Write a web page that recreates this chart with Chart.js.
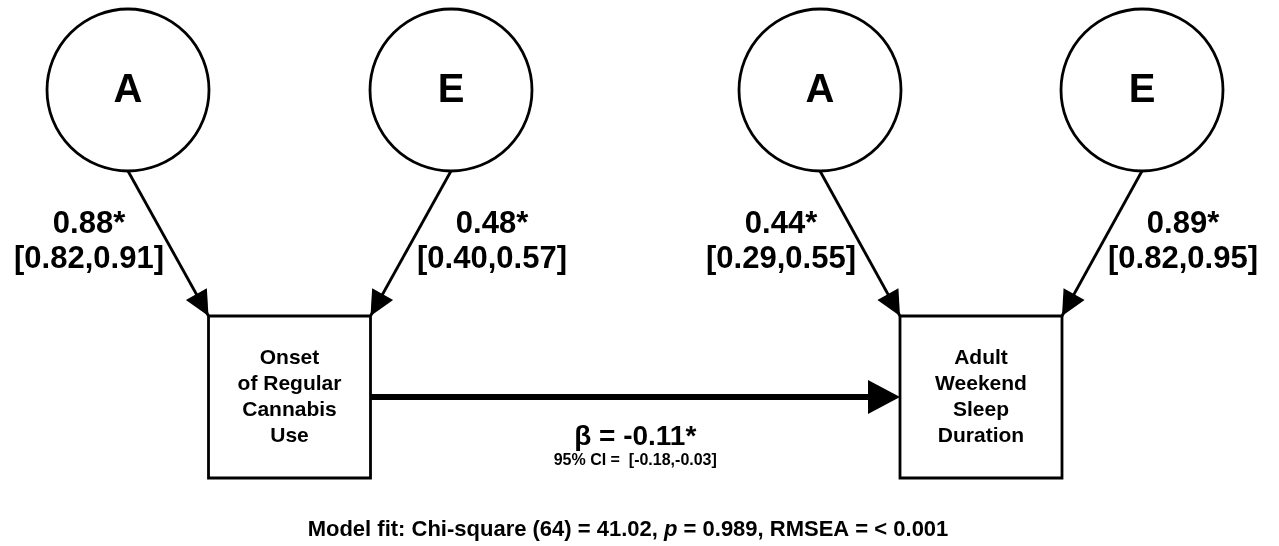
<!DOCTYPE html>
<html>
<head>
<meta charset="utf-8">
<script src="https://cdn.jsdelivr.net/npm/chart.js@4/dist/chart.umd.min.js"></script>
<style>
  html, body { margin: 0; padding: 0; background: #ffffff; }
  #wrap { width: 1279px; height: 546px; }
</style>
</head>
<body>
<div id="wrap"><canvas id="c" width="1279" height="546"></canvas></div>
<script>
// ---- Model estimates ----
const latentLabels = ['A', 'E', 'A', 'E'];
const loadings     = [0.88, 0.48, 0.44, 0.89];
const loadingLow   = [0.82, 0.40, 0.29, 0.82];
const loadingHigh  = [0.91, 0.57, 0.55, 0.95];
const observedLabels = [
  ['Onset', 'of Regular', 'Cannabis', 'Use'],
  ['Adult', 'Weekend', 'Sleep', 'Duration']
];
const pathBeta = -0.11;
const pathCI   = [-0.18, -0.03];
const fitDf = 64;
const fitChiSq = 41.02;
const fitP = 0.989;
const fitRmsea = '< 0.001';

// ---- Diagram layout (in canvas units of the 1279 x 546 drawing space) ----
const latentX = [128, 451, 820, 1142];
const latentY = 90;
const latentR = 81;
const latentTarget = [0, 0, 1, 1];     // which observed box each factor points to
const latentCorner = [-1, 1, -1, 1];   // left or right top corner of that box
const boxX = [289.5, 981];
const boxY = 397;
const boxHalf = 81;
const labelX = [89, 492, 781, 1183];
const FONT = '"Liberation Sans", Arial, Helvetica, sans-serif';

// line segments for the factor paths
const factorPaths = latentX.map((cx, i) => {
  const b = latentTarget[i];
  return {
    type: 'line',
    data: [
      { x: cx, y: latentY + latentR },
      { x: boxX[b] + latentCorner[i] * boxHalf, y: boxY - boxHalf }
    ],
    borderColor: '#000',
    borderWidth: 2.8,
    pointRadius: 0,
    showLine: true,
    clip: false,
    order: 3
  };
});

const regressionPath = {
  type: 'line',
  data: [
    { x: boxX[0] + boxHalf, y: boxY },
    { x: boxX[1] - boxHalf - 28, y: boxY }
  ],
  borderColor: '#000',
  borderWidth: 6,
  pointRadius: 0,
  showLine: true,
  clip: false,
  order: 3
};

const latentNodes = {
  type: 'scatter',
  data: latentX.map(x => ({ x: x, y: latentY })),
  pointStyle: 'circle',
  pointRadius: latentR,
  pointHoverRadius: latentR,
  backgroundColor: '#ffffff',
  borderColor: '#000000',
  borderWidth: 2.8,
  clip: false,
  order: 1
};

const observedNodes = {
  type: 'scatter',
  data: boxX.map(x => ({ x: x, y: boxY })),
  pointStyle: 'rect',
  pointRadius: boxHalf * Math.SQRT2,
  pointHoverRadius: boxHalf * Math.SQRT2,
  backgroundColor: '#ffffff',
  borderColor: '#000000',
  borderWidth: 2.8,
  clip: false,
  order: 1
};

function arrowHead(ctx, fx, fy, tx, ty, len, half) {
  const a = Math.atan2(ty - fy, tx - fx);
  const bx = tx - Math.cos(a) * len, by = ty - Math.sin(a) * len;
  const nx = -Math.sin(a) * half, ny = Math.cos(a) * half;
  ctx.beginPath();
  ctx.moveTo(tx, ty);
  ctx.lineTo(bx + nx, by + ny);
  ctx.lineTo(bx - nx, by - ny);
  ctx.closePath();
  ctx.fill();
}

const diagramPlugin = {
  id: 'diagram',
  afterDatasetsDraw(chart) {
    const ctx = chart.ctx;
    const sx = v => chart.scales.x.getPixelForValue(v);
    const sy = v => chart.scales.y.getPixelForValue(v);
    ctx.save();
    ctx.fillStyle = '#000';
    ctx.textAlign = 'center';
    ctx.textBaseline = 'middle';

    // factor path arrowheads and labels
    latentX.forEach((cx, i) => {
      const b = latentTarget[i];
      const fx = sx(cx), fy = sy(latentY + latentR);
      const tx = sx(boxX[b] + latentCorner[i] * boxHalf), ty = sy(boxY - boxHalf);
      arrowHead(ctx, fx, fy, tx, ty, 25, 12);

      ctx.font = 'bold 40px ' + FONT;
      ctx.fillText(latentLabels[i], sx(cx), sy(latentY) + 1);

      ctx.font = 'bold 31px ' + FONT;
      ctx.fillText(loadings[i].toFixed(2) + '*', sx(labelX[i]), sy(224));
      ctx.fillText('[' + loadingLow[i].toFixed(2) + ',' + loadingHigh[i].toFixed(2) + ']',
                   sx(labelX[i]), sy(259));
    });

    // regression arrowhead
    arrowHead(ctx, sx(boxX[0] + boxHalf), sy(boxY), sx(boxX[1] - boxHalf), sy(boxY), 32, 17);

    // observed variable labels
    ctx.font = 'bold 21px ' + FONT;
    boxX.forEach((bx, j) => {
      const lines = observedLabels[j];
      lines.forEach((t, k) => {
        ctx.fillText(t, sx(bx), sy(boxY) + (k - (lines.length - 1) / 2) * 26);
      });
    });

    // regression estimate
    const midX = sx((boxX[0] + boxX[1]) / 2);
    ctx.font = 'bold 28px ' + FONT;
    ctx.fillText('\u03B2 = ' + pathBeta.toFixed(2) + '*', midX, sy(437));
    ctx.font = 'bold 16px ' + FONT;
    ctx.fillText('95% CI =  [' + pathCI[0].toFixed(2) + ',' + pathCI[1].toFixed(2) + ']', midX, sy(461));

    // model fit line, with italic p
    const parts = [
      { t: 'Model fit: Chi-square (' + fitDf + ') = ' + fitChiSq.toFixed(2) + ', ', f: 'bold 22px ' + FONT },
      { t: 'p', f: 'italic bold 22px ' + FONT },
      { t: ' = ' + fitP.toFixed(3) + ', RMSEA = ' + fitRmsea, f: 'bold 22px ' + FONT }
    ];
    let total = 0;
    parts.forEach(p => { ctx.font = p.f; p.w = ctx.measureText(p.t).width; total += p.w; });
    let x = sx(628) - total / 2;
    ctx.textAlign = 'left';
    parts.forEach(p => { ctx.font = p.f; ctx.fillText(p.t, x, sy(530)); x += p.w; });

    ctx.restore();
  }
};

new Chart(document.getElementById('c'), {
  type: 'scatter',
  data: { datasets: [latentNodes, observedNodes, regressionPath, ...factorPaths] },
  options: {
    responsive: false,
    animation: false,
    devicePixelRatio: 1,
    layout: { padding: 0, autoPadding: false },
    events: [],
    plugins: { legend: { display: false }, tooltip: { enabled: false }, title: { display: false } },
    scales: {
      x: { type: 'linear', min: 0, max: 1279, display: false },
      y: { type: 'linear', min: 0, max: 546, reverse: true, display: false }
    }
  },
  plugins: [diagramPlugin]
});
</script>
</body>
</html>
